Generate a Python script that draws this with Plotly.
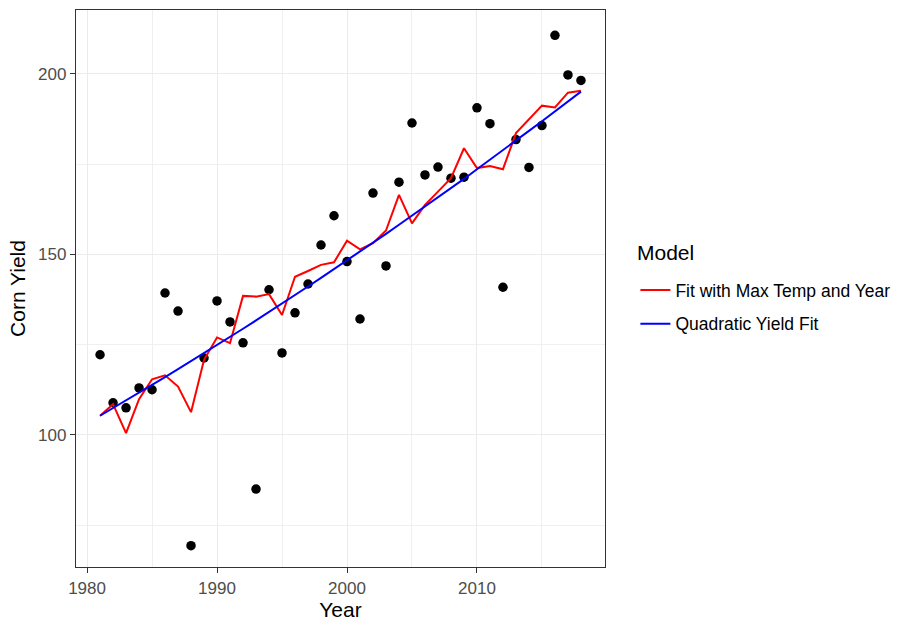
import plotly.graph_objects as go

years = list(range(1981, 2019))

corn_yield = [122.2, 108.9, 107.5, 113.0, 112.5, 139.3, 134.3, 69.3, 121.3, 137.1,
              131.3, 125.5, 85.0, 140.2, 122.7, 133.8, 141.8, 152.6, 160.7, 148.0,
              132.1, 167.0, 146.8, 170.0, 186.4, 172.0, 174.2, 171.1, 171.4, 190.6,
              186.2, 140.9, 181.8, 174.1, 185.7, 210.7, 199.7, 198.2]

fit_temp_year = [105.3, 108.5, 100.5, 109.9, 115.4, 116.5, 113.4, 106.3, 120.8, 127.0,
                 125.4, 138.5, 138.3, 139.0, 133.2, 143.8, 145.4, 147.1, 147.8, 153.8,
                 151.4, 153.1, 156.6, 166.5, 158.6, 163.7, 167.4, 171.1, 179.4, 173.9,
                 174.5, 173.6, 183.6, 187.3, 191.2, 190.7, 194.8, 195.3]

quad_fit = [105.3, 107.4, 109.5, 111.6, 113.8, 116.0, 118.2, 120.4, 122.6, 124.8,
            127.1, 129.4, 131.7, 134.0, 136.4, 138.7, 141.1, 143.5, 145.9, 148.3,
            150.8, 153.2, 155.7, 158.2, 160.7, 163.2, 165.8, 168.3, 170.9, 173.6,
            176.2, 178.8, 181.5, 184.2, 186.9, 189.6, 192.3, 195.1]

x_ticks = [1980, 1990, 2000, 2010]
x_minor = [1985, 1995, 2005, 2015]
y_ticks = [100, 150, 200]
y_minor = [75, 125, 175]

FONT = "Liberation Sans, Arial, Helvetica, sans-serif"

fig = go.Figure()
fig.add_trace(go.Scatter(x=years, y=corn_yield, mode="markers",
                         marker=dict(color="black", size=9.5), showlegend=False))
fig.add_trace(go.Scatter(x=years, y=fit_temp_year, mode="lines",
                         line=dict(color="#FF0000", width=2),
                         name="Fit with Max Temp and Year", legendgroup="a"))
fig.add_trace(go.Scatter(x=years, y=quad_fit, mode="lines",
                         line=dict(color="#0000FF", width=2),
                         name="Quadratic Yield Fit", legendgroup="b"))

axis_common = dict(
    showline=True, linecolor="#333333", linewidth=1.3, mirror=True,
    ticks="outside", ticklen=5, tickcolor="#333333", tickwidth=1.3,
    showgrid=True, gridcolor="#EBEBEB", gridwidth=1.3,
    zeroline=False,
    tickfont=dict(family=FONT, size=17, color="#4D4D4D"),
)

fig.update_xaxes(range=[1979.15, 2019.85], tickvals=x_ticks,
                 title=dict(text="Year", font=dict(family=FONT, size=21, color="black"), standoff=3),
                 minor=dict(tickvals=x_minor, showgrid=True,
                            gridcolor="#F0F0F0", gridwidth=0.8, ticks=""),
                 **axis_common)
fig.update_yaxes(range=[63.4, 217.7], tickvals=y_ticks,
                 title=dict(text="Corn Yield", font=dict(family=FONT, size=21, color="black"), standoff=6),
                 minor=dict(tickvals=y_minor, showgrid=True,
                            gridcolor="#F0F0F0", gridwidth=0.8, ticks=""),
                 **axis_common)

fig.update_layout(
    width=900, height=627,
    margin=dict(l=76, r=295, t=10, b=60),
    plot_bgcolor="white", paper_bgcolor="white",
    font=dict(family=FONT),
    legend=dict(
        font=dict(family=FONT, size=17.5, color="black"),
        xref="container", yref="container",
        x=0.706, xanchor="left", y=1 - 307 / 627, yanchor="middle",
        tracegroupgap=8, bgcolor="rgba(0,0,0,0)",
    ),
    annotations=[dict(
        text="Model", showarrow=False, xref="paper", yref="paper",
        x=(635 - 76) / 529, y=(567 - 252) / 557, xanchor="left", yanchor="middle",
        font=dict(family=FONT, size=21, color="black"),
    )],
)

fig.write_html("out.html")
